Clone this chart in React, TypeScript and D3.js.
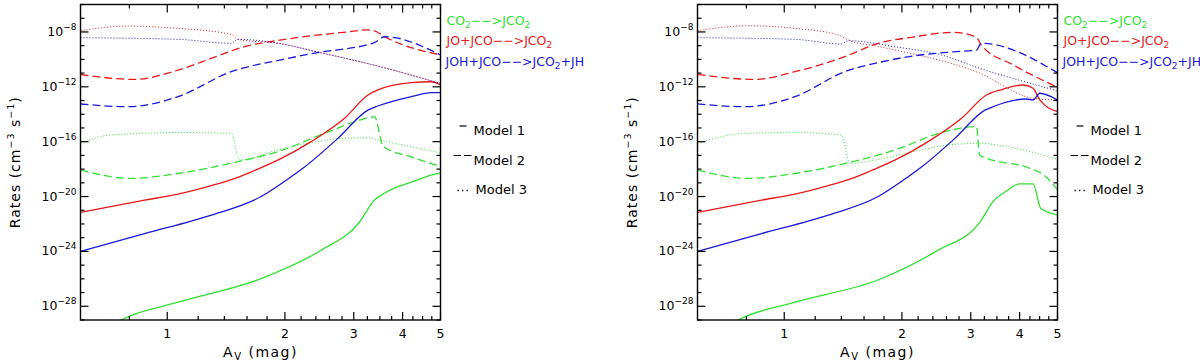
import React from "react";
import * as d3 from "d3";

// each point: [Av (mag), log10 rate (cm^-3 s^-1)]
type Pt = [number, number];

// ---- left panel ----
const leftCO2M1: Pt[] = [[0.74, -29.2], [0.762, -29.0], [1.065, -27.7], [1.739, -25.98], [2.476, -23.91], [3.09, -21.93], [3.39, -20.25], [3.6, -19.74], [4.26, -18.9], [4.732, -18.44], [5.0, -18.27]];
const leftCO2M2: Pt[] = [[0.6, -18.07], [0.809, -18.68], [1.065, -18.32], [1.516, -17.46], [1.918, -16.73], [2.525, -15.39], [3.325, -14.22], [3.389, -14.18], [3.57, -16.36], [4.207, -17.1], [5.0, -17.83]];
const leftCO2M3: Pt[] = [[0.6, -16.12], [0.719, -15.51], [1.065, -15.34], [1.457, -15.39], [1.53, -17.33], [1.918, -16.6], [2.2, -16.2], [2.88, -15.75], [3.261, -15.72], [3.5, -15.9], [5.0, -16.82]];
const leftJOM1: Pt[] = [[0.6, -21.16], [0.875, -20.26], [1.065, -19.82], [1.296, -19.2], [1.516, -18.6], [1.672, -18.1], [1.918, -17.35], [2.334, -16.0], [2.841, -14.3], [3.261, -12.6], [3.457, -12.23], [4.207, -11.7], [4.732, -11.63], [5.0, -11.87]];
const leftJOM2: Pt[] = [[0.6, -11.1], [0.825, -11.46], [1.065, -10.78], [1.296, -9.93], [1.577, -9.07], [1.94, -8.6], [2.88, -8.0], [3.25, -7.85], [3.39, -7.92], [3.6, -8.35], [5.0, -9.68]];
const leftJOM3: Pt[] = [[0.6, -7.91], [0.793, -7.57], [1.065, -7.74], [1.457, -8.18], [1.516, -8.54], [1.94, -8.85], [2.42, -9.46], [3.39, -10.43], [5.0, -11.76]];
const leftJOHM1: Pt[] = [[0.6, -23.99], [0.875, -22.7], [1.296, -21.36], [1.739, -20.0], [2.075, -18.56], [2.244, -17.85], [2.732, -15.76], [3.261, -13.7], [3.457, -13.4], [4.207, -12.72], [4.732, -12.43], [5.0, -12.43]];
const leftJOHM2: Pt[] = [[0.6, -13.25], [0.793, -13.45], [1.065, -12.72], [1.457, -10.9], [1.94, -10.05], [2.42, -9.51], [3.39, -8.78], [3.6, -8.35], [5.0, -9.68]];
const leftJOHM3: Pt[] = [[0.6, -8.42], [1.065, -8.54], [1.457, -8.83], [1.516, -8.54], [1.94, -8.85], [2.42, -9.46], [3.39, -10.43], [5.0, -11.76]];

// ---- right panel ----
const rightCO2M1: Pt[] = [[0.74, -29.2], [0.762, -29.0], [1.065, -27.7], [1.756, -26.03], [2.476, -23.91], [3.16, -21.9], [3.42, -20.37], [3.7, -19.6], [4.005, -19.08], [4.33, -19.08], [4.53, -20.86], [5.0, -21.34]];
const rightCO2M2: Pt[] = [[0.6, -18.07], [0.809, -18.68], [1.065, -18.32], [1.457, -17.54], [1.918, -16.61], [2.525, -15.34], [3.103, -14.9], [3.16, -16.97], [3.29, -17.2], [4.207, -17.9], [4.6, -18.4], [5.0, -19.5]];
const rightCO2M3: Pt[] = [[0.6, -16.12], [0.793, -15.39], [1.065, -15.34], [1.401, -15.51], [1.472, -17.58], [1.756, -17.28], [2.137, -16.73], [2.704, -16.2], [3.16, -16.12], [3.6, -16.3], [5.0, -17.28]];
const rightJOM1: Pt[] = [[0.6, -21.16], [0.875, -20.26], [1.065, -19.82], [1.296, -19.2], [1.516, -18.6], [1.672, -18.1], [1.918, -17.35], [2.334, -16.0], [2.841, -14.3], [3.29, -12.6], [3.6, -12.2], [4.08, -11.87], [4.33, -12.11], [4.505, -12.96], [5.0, -13.81]];
const rightJOM2: Pt[] = [[0.6, -11.1], [0.841, -11.46], [1.065, -10.9], [1.429, -9.8], [1.739, -8.83], [2.116, -8.39], [2.704, -8.03], [3.103, -8.39], [3.19, -8.95], [3.85, -10.4], [5.0, -12.03]];
const rightJOM3: Pt[] = [[0.6, -7.91], [0.809, -7.55], [1.065, -7.74], [1.374, -8.22], [1.457, -8.59], [1.756, -9.08], [3.16, -11.0], [4.33, -12.84], [5.0, -12.96]];
const rightJOHM1: Pt[] = [[0.6, -23.99], [0.875, -22.7], [1.296, -21.36], [1.739, -20.0], [2.075, -18.56], [2.244, -17.85], [2.732, -15.76], [3.261, -13.7], [3.457, -13.4], [4.16, -12.89], [4.33, -12.96], [4.505, -12.47], [5.0, -12.96]];
const rightJOHM2: Pt[] = [[0.6, -13.25], [0.793, -13.45], [1.065, -12.72], [1.429, -10.9], [1.756, -10.21], [2.137, -9.75], [2.704, -9.45], [3.103, -9.32], [3.19, -8.83], [5.0, -10.97]];
const rightJOHM3: Pt[] = [[0.6, -8.42], [1.065, -8.54], [1.401, -8.88], [1.457, -8.64], [1.918, -9.08], [2.525, -9.68], [3.16, -10.65], [4.207, -11.7], [5.0, -12.3]];

// axis ticks
const xMajor = [1, 2, 3, 4, 5];
const xMinor = [0.8, 1.2, 1.4, 1.6, 1.8, 2.2, 2.4, 2.6, 2.8, 3.25, 3.5, 3.75, 4.25, 4.5, 4.75];
const yDecades = d3.range(-29, -5);

const GREEN = "#30e030";
const RED = "#e81818";
const BLUE = "#1818d8";
const FONT = "'DejaVu Sans', sans-serif";

const styles = {
  solid: { width: 1.3, dash: undefined as string | undefined },
  dashed: { width: 1.3, dash: "8,4" },
  dotted: { width: 1, dash: "1,2" },
};

function Panel({ left, id, series }: { left: number; id: string; series: { data: Pt[]; color: string; kind: "solid" | "dashed" | "dotted" }[] }) {
  const right = left + 360;
  const top = 4.5, bottom = 320;
  const x = d3.scaleLog().domain([0.6, 5]).range([left, right]);
  const y = d3.scaleLog().domain([1e-29, 1e-6]).range([bottom, top]);
  const line = d3.line<Pt>().x(d => x(d[0])).y(d => y(Math.pow(10, d[1]))).curve(d3.curveMonotoneX);

  return (
    <g>
      <defs>
        <clipPath id={id}>
          <rect x={left} y={top} width={right - left} height={bottom - top} />
        </clipPath>
      </defs>
      <g clipPath={`url(#${id})`}>
        {series.map((s, i) => (
          <path key={i} d={line(s.data) || ""} fill="none" stroke={s.color}
            strokeWidth={styles[s.kind].width} strokeDasharray={styles[s.kind].dash} />
        ))}
      </g>
      <rect x={left} y={top} width={right - left} height={bottom - top} fill="none" stroke="#000" strokeWidth={1.4} />
      {/* y ticks */}
      {yDecades.map(e => {
        const yy = y(Math.pow(10, e));
        const major = e % 4 === 0;
        const len = major ? 8 : 4;
        return (
          <g key={e}>
            <line x1={left} x2={left + len} y1={yy} y2={yy} stroke="#000" strokeWidth={1.2} />
            <line x1={right} x2={right - len} y1={yy} y2={yy} stroke="#000" strokeWidth={1.2} />
            {major && (
              <text x={left - 4} y={yy + 4} textAnchor="end" fontFamily={FONT} fontSize={12.5} fill="#000">
                10<tspan dy={-6} fontSize={9}>{"\u2212" + (-e)}</tspan>
              </text>
            )}
          </g>
        );
      })}
      {/* x ticks */}
      {xMajor.concat(xMinor).map(v => {
        const xx = x(v);
        const major = xMajor.includes(v);
        const len = major ? 8 : 4;
        return (
          <g key={v}>
            <line x1={xx} x2={xx} y1={bottom} y2={bottom - len} stroke="#000" strokeWidth={1.2} />
            <line x1={xx} x2={xx} y1={top} y2={top + len} stroke="#000" strokeWidth={1.2} />
            {major && (
              <text x={xx} y={337.5} textAnchor="middle" fontFamily={FONT} fontSize={12.5} fill="#000">{v}</text>
            )}
          </g>
        );
      })}
      {/* axis titles */}
      <text x={(left + right) / 2} y={357} textAnchor="middle" fontFamily={FONT} fontSize={14} letterSpacing={1.5} fill="#000">
        A<tspan dy={3} fontSize={10}>V</tspan><tspan dy={-3}>{" (mag)"}</tspan>
      </text>
      <text transform={`translate(${left - 61},${(top + bottom) / 2}) rotate(-90)`} textAnchor="middle"
        fontFamily={FONT} fontSize={14} letterSpacing={1} fill="#000">
        Rates (cm<tspan dy={-6} fontSize={9.5}>{"\u22123"}</tspan><tspan dy={6}>{" s"}</tspan><tspan dy={-6} fontSize={9.5}>{"\u22121"}</tspan><tspan dy={6}>)</tspan>
      </text>
      {/* reaction legend */}
      <text x={right + 6} y={25} fontFamily={FONT} fontSize={12.5} fill={GREEN}>
        CO<tspan dy={3} fontSize={9}>2</tspan><tspan dy={-3}>{"\u2212\u2212>JCO"}</tspan><tspan dy={3} fontSize={9}>2</tspan>
      </text>
      <text x={right + 6} y={45} fontFamily={FONT} fontSize={12.5} fill={RED}>
        {"JO+JCO\u2212\u2212>JCO"}<tspan dy={3} fontSize={9}>2</tspan>
      </text>
      <text x={right + 5} y={66} fontFamily={FONT} fontSize={12.5} fill={BLUE}>
        {"JOH+JCO\u2212\u2212>JCO"}<tspan dy={3} fontSize={9}>2</tspan><tspan dy={-3}>+JH</tspan>
      </text>
      {/* model legend */}
      <line x1={right + 19} x2={right + 26} y1={126} y2={126} stroke="#000" strokeWidth={1.2} />
      <text x={right + 33} y={135} fontFamily={FONT} fontSize={13} fill="#000">Model  1</text>
      <line x1={right + 13} x2={right + 31} y1={155.5} y2={155.5} stroke="#000" strokeWidth={1.2} strokeDasharray="7.5,3" />
      <text x={right + 33} y={165} fontFamily={FONT} fontSize={13} fill="#000">Model  2</text>
      <line x1={right + 17} x2={right + 29} y1={190.5} y2={190.5} stroke="#000" strokeWidth={1.3} strokeDasharray="1.3,3.2" />
      <text x={right + 35} y={194} fontFamily={FONT} fontSize={13} fill="#000">Model  3</text>
    </g>
  );
}

export default function App() {
  const leftSeries = [
    { data: leftCO2M1, color: GREEN, kind: "solid" as const },
    { data: leftCO2M2, color: GREEN, kind: "dashed" as const },
    { data: leftCO2M3, color: GREEN, kind: "dotted" as const },
    { data: leftJOM1, color: RED, kind: "solid" as const },
    { data: leftJOM2, color: RED, kind: "dashed" as const },
    { data: leftJOM3, color: RED, kind: "dotted" as const },
    { data: leftJOHM1, color: BLUE, kind: "solid" as const },
    { data: leftJOHM2, color: BLUE, kind: "dashed" as const },
    { data: leftJOHM3, color: BLUE, kind: "dotted" as const },
  ];
  const rightSeries = [
    { data: rightCO2M1, color: GREEN, kind: "solid" as const },
    { data: rightCO2M2, color: GREEN, kind: "dashed" as const },
    { data: rightCO2M3, color: GREEN, kind: "dotted" as const },
    { data: rightJOM1, color: RED, kind: "solid" as const },
    { data: rightJOM2, color: RED, kind: "dashed" as const },
    { data: rightJOM3, color: RED, kind: "dotted" as const },
    { data: rightJOHM1, color: BLUE, kind: "solid" as const },
    { data: rightJOHM2, color: BLUE, kind: "dashed" as const },
    { data: rightJOHM3, color: BLUE, kind: "dotted" as const },
  ];
  return (
    <svg width={1200} height={363} style={{ position: "absolute", left: 0, top: 0, background: "#fff" }}>
      <rect width={1200} height={363} fill="#fff" />
      <Panel left={80.5} id="clipL" series={leftSeries} />
      <Panel left={697.5} id="clipR" series={rightSeries} />
    </svg>
  );
}
